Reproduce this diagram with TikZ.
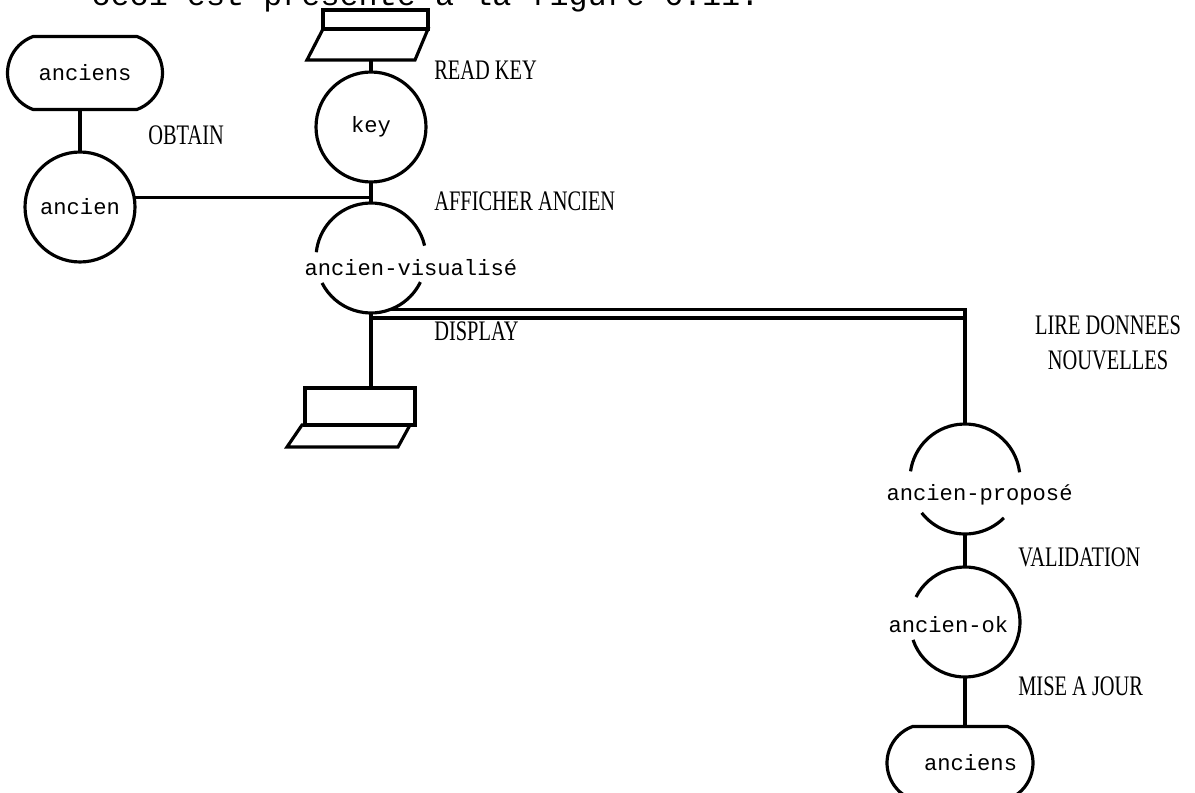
\documentclass[tikz,border=0pt]{standalone}
\usepackage{fontspec}
\setmainfont{Liberation Serif}
\setmonofont{Liberation Mono}
\usepackage{tikz}
\usetikzlibrary{calc,shapes.misc}
\newcommand{\nodefont}{\ttfamily\fontsize{12.6}{14}\selectfont}
\newcommand{\procfont}{\rmfamily\fontsize{14}{17.5}\selectfont}
\newcommand{\pagefont}{\ttfamily\fontsize{18.1}{21}\selectfont}

\begin{document}
\begin{tikzpicture}[x=0.02cm,y=-0.02cm,line width=1.8pt,
  store/.style={draw,rounded rectangle,rounded rectangle arc length=140,minimum width=3.1cm,minimum height=1.46cm,inner sep=0pt,font=\nodefont},
  stn/.style={circle,minimum size=2.2cm,inner sep=0pt,outer sep=0pt,font=\nodefont},
  proc/.style={anchor=west,inner sep=0pt,xscale=.83,yscale=1.15,font=\procfont},
  dname/.style={anchor=west,inner sep=0pt,font=\nodefont}]
\useasboundingbox (0,0) rectangle (1195,793);
% line of the page above the figure
\node[anchor=base west,inner sep=0pt,font=\pagefont] (page) at (90,6) {ceci est présenté à la figure 6.11.};

% stores
\node[store] (oldA) at (85,73) {anciens};
\node[store,minimum width=2.92cm] (oldB) at (960,763) {\hspace{12pt}anciens};
% states
\node[stn,draw] (old) at (80,207) {ancien};
\node[stn,draw] (key) at (371,127) {key};
\node[stn] (vis) at (371,258) {};
\node[stn] (prop) at (965,479) {};
\node[stn] (ok) at (965,622) {};
\draw (vis.13) arc[start angle=13,end angle=174,radius=1.1cm];
\draw (vis.207) arc[start angle=207,end angle=334,radius=1.1cm];
\draw (prop.7) arc[start angle=7,end angle=172,radius=1.1cm];
\draw (prop.218) arc[start angle=218,end angle=315,radius=1.1cm];
\draw (ok.-161) arc[start angle=-161,end angle=153,radius=1.1cm];
\node[dname] (vist) at (303,268) {ancien-visualisé};
\node[dname] (propt) at (885,495) {ancien-proposé};
\node[dname] (okt) at (887,625) {ancien-ok};

% keyboard and screen
\coordinate (kbd) at (371,60);
\draw (323,29) rectangle (428,10);
\draw (323,29) -- (428,29) -- (415,60) -- (307,60) -- cycle;
\coordinate (scr) at (371,388);
\draw (305,388) rectangle (415,425);
\draw (302,425) -- (410,425) -- (398,447) -- (287,447) -- cycle;

% connectors
\draw (old.north |- oldA.south) -- (old.north);
\draw (kbd) -- (key.north);
\draw (key.south) -- (vis.north);
\draw (old.10) -- (old.10 -| vis.north);
\draw (vis.south) -- (scr);
\coordinate (dbl) at (371,318);
\draw (vis.-70) -| (prop.north);
\draw (dbl) -- (dbl -| prop.north);
\draw (prop.south) -- (ok.north);
\draw (ok.south) -- (ok.south |- oldB.north);

% process names
\node[proc] (obtain) at (147,135) {OBTAIN};
\node[proc] (readkey) at (433,70) {READ KEY};
\node[proc] (afficher) at (433,201) {AFFICHER ANCIEN};
\node[proc] (display) at (433,331) {DISPLAY};
\node[proc,anchor=center,align=center] (lire) at (1108,343) {LIRE DONNEES\\NOUVELLES};
\node[proc] (valid) at (1017,557) {VALIDATION};
\node[proc] (maj) at (1017,686) {MISE A JOUR};
\end{tikzpicture}
\end{document}
